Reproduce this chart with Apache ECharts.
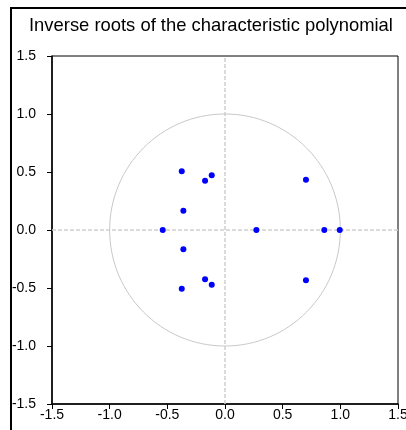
<!DOCTYPE html>
<html>
<head>
<meta charset="utf-8">
<script src="https://cdn.jsdelivr.net/npm/echarts@6/dist/echarts.min.js"></script>
<style>
  html, body { margin: 0; padding: 0; background: #fff; }
  #main { width: 406px; height: 430px; }
</style>
</head>
<body>
<div id="main"></div>
<script>
var rootRe = [-0.375, -0.115, -0.173, 0.702, -0.361, -0.54, 0.272, 0.861, 0.995, -0.361, -0.173, -0.115, -0.375, 0.702]
var rootIm = [0.506, 0.471, 0.425, 0.434, 0.166, 0, 0, 0, 0, -0.166, -0.425, -0.471, -0.506, -0.434]
var axisTicks = [-1.5, -1.0, -0.5, 0.0, 0.5, 1.0, 1.5]
var unitCircle = [[0, 0, 1]] // center x, center y, radius

var points = rootRe.map(function (x, i) { return [x, rootIm[i]] })

var chart = echarts.init(document.getElementById('main'))

function axisCfg () {
  return {
    min: axisTicks[0],
    max: axisTicks[axisTicks.length - 1],
    interval: 0.5,
    axisLine: { onZero: false, lineStyle: { color: '#000', width: 1.5 } },
    axisTick: { show: true, length: 5, lineStyle: { color: '#000' } },
    splitLine: { show: false },
    axisLabel: {
      color: '#000',
      fontSize: 14,
      fontFamily: 'Liberation Sans, Arial, sans-serif',
      formatter: function (v) { return v.toFixed(1) }
    }
  }
}

var xAx = axisCfg()
xAx.axisLabel.margin = 4
var yAx = axisCfg()
yAx.axisLabel.margin = 16

chart.setOption({
  animation: false,
  title: {
    text: 'Inverse roots of the characteristic polynomial',
    left: 24,
    top: 12,
    textStyle: { color: '#000', fontSize: 18.4, fontWeight: 'normal', fontFamily: 'Liberation Sans, Arial, sans-serif' }
  },
  graphic: [{
    type: 'rect',
    shape: { x: 11, y: 8, width: 420, height: 440 },
    style: { fill: null, stroke: '#000', lineWidth: 2 },
    silent: true
  }],
  grid: {
    left: 52, right: 8, top: 56, bottom: 26,
    outerBoundsMode: 'none',
    show: true, borderColor: '#000', borderWidth: 1
  },
  xAxis: xAx,
  yAxis: yAx,
  series: [
    {
      type: 'custom',
      silent: true,
      data: unitCircle,
      renderItem: function (params, api) {
        var c = api.coord([api.value(0), api.value(1)])
        var s = api.size([api.value(2), api.value(2)])
        return {
          type: 'ellipse',
          shape: { cx: c[0], cy: c[1], rx: s[0], ry: s[1] },
          style: { fill: null, stroke: '#c8c8c8', lineWidth: 1 }
        }
      },
      z: 1
    },
    {
      type: 'scatter',
      data: points,
      symbolSize: 6,
      itemStyle: { color: '#0000ff', opacity: 1 },
      z: 3,
      markLine: {
        silent: true,
        symbol: 'none',
        label: { show: false },
        lineStyle: { color: '#d0d0d0', type: [4, 2], width: 1.5 },
        data: [{ xAxis: 0 }, { yAxis: 0 }],
        z: 1
      }
    }
  ]
})
</script>
</body>
</html>
